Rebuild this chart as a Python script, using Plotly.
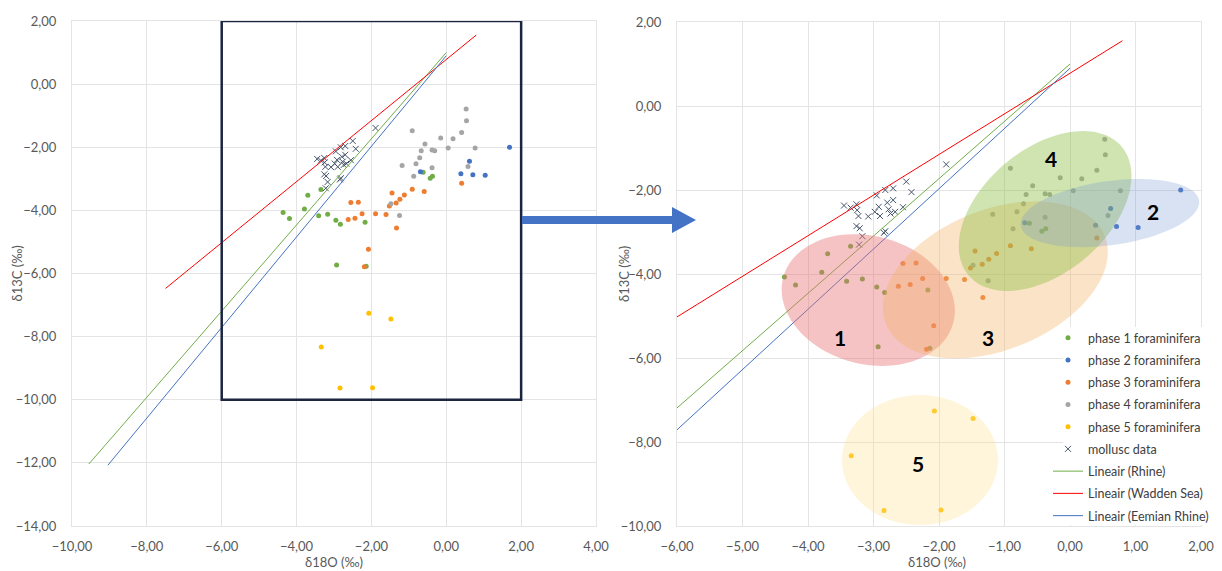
import numpy as np
import plotly.graph_objects as go

# ---- isotope data (δ18O, δ13C in ‰) ----
phase1_x = [-4.36, -4.19, -3.70, -3.79, -3.35, -3.41, -3.17, -2.95, -2.83, -2.17, -2.93, -2.14, -0.62, -0.43, -0.37]
phase1_y = [-4.07, -4.26, -3.52, -3.96, -3.34, -4.17, -4.12, -4.31, -4.44, -4.38, -5.73, -5.77, -2.79, -2.98, -2.92]

phase2_x = [1.69, 0.62, 0.39, 0.71, 1.04, -0.69]
phase2_y = [-2.00, -2.44, -2.84, -2.87, -2.89, -2.78]

phase3_x = [-2.55, -2.35, -2.25, -2.62, -2.44, -1.89, -1.61, -1.45, -1.52, -1.34, -1.24, -1.12, -0.91, -0.59, -1.33, -2.08, -2.19, 0.41]
phase3_y = [-3.75, -3.74, -4.11, -4.29, -4.25, -4.11, -4.13, -3.45, -3.86, -3.77, -3.65, -3.51, -3.33, -3.40, -4.56, -5.23, -5.79, -3.14]

phase4_x = [0.53, 0.54, -0.91, 0.41, -0.15, 0.18, -0.57, 0.77, 0.05, -0.38, -0.31, -0.67, -0.71, -0.81, -1.18, -0.38, 0.58, -0.87, -1.25, -1.48]
phase4_y = [-0.79, -1.16, -1.48, -1.53, -1.71, -1.73, -1.90, -2.02, -2.02, -2.09, -2.11, -2.11, -2.33, -2.52, -2.58, -2.65, -2.61, -2.92, -4.16, -3.79]

phase5_x = [-2.07, -1.48, -3.34, -2.84, -1.97]
phase5_y = [-7.26, -7.44, -8.33, -9.63, -9.62]

mollusc_x = [-1.89, -2.50, -2.42, -2.70, -2.82, -2.95, -2.70, -2.55, -2.67, -2.79, -2.77, -2.74, -2.92, -2.98,
             -2.90, -3.08, -3.45, -3.35, -3.26, -3.25, -3.23, -3.26, -3.21, -3.17, -3.22, -2.84, -2.82]
mollusc_y = [-1.39, -1.80, -2.05, -1.96, -2.00, -2.13, -2.24, -2.41, -2.52, -2.30, -2.46, -2.56, -2.40, -2.52,
             -2.62, -2.63, -2.37, -2.42, -2.34, -2.48, -2.62, -2.86, -2.91, -3.10, -3.30, -3.02, -2.98]

# linear trend lines: y = intercept + slope * x over [xmin, xmax]
trend_names = ["Lineair (Rhine)", "Lineair (Wadden Sea)", "Lineair (Eemian Rhine)"]
trend_slope = [1.365, 0.967, 1.435]
trend_intercept = [1.00, 0.78, 0.90]
trend_xmin = [-9.55, -7.50, -9.04]
trend_xmax = [0.00, 0.80, 0.00]

# group labels drawn over the detail panel
group_labels = ["1", "2", "3", "4", "5"]
group_label_x = [-3.51, 1.27, -1.25, -0.29, -2.32]
group_label_y = [-5.52, -2.50, -5.50, -1.24, -8.50]

# ---- styling ----
W, H = 1222, 571
FONT = "Lato, 'Open Sans', sans-serif"
GREY_TXT = "#595959"
GRID = "#E4E4E4"

phases = [
    ("phase 1 foraminifera", phase1_x, phase1_y, "#70AD47"),
    ("phase 2 foraminifera", phase2_x, phase2_y, "#4472C4"),
    ("phase 3 foraminifera", phase3_x, phase3_y, "#ED7D31"),
    ("phase 4 foraminifera", phase4_x, phase4_y, "#A5A5A5"),
    ("phase 5 foraminifera", phase5_x, phase5_y, "#FFC000"),
]
trend_colors = ["#70AD47", "#FF0000", "#4472C4"]

# plot areas in pixels
L_X0, L_X1, L_Y0, L_Y1 = 72, 596, 21, 526
R_X0, R_X1, R_Y0, R_Y1 = 677, 1201, 22, 526


def dom_x(a, b):
    return [a / W, b / W]


def dom_y(top, bottom):
    return [1 - bottom / H, 1 - top / H]


def P(x, y):
    return f"{x / W:.5f},{1 - y / H:.5f}"


fig = go.Figure()

for panel, (xa, ya) in enumerate([("x", "y"), ("x2", "y2")]):
    show = panel == 1
    for name, xs, ys, col in phases:
        fig.add_trace(go.Scatter(
            x=xs, y=ys, mode="markers", name=name, xaxis=xa, yaxis=ya, legendgroup=name,
            marker=dict(symbol="circle", size=5, color=col),
            showlegend=show))
    fig.add_trace(go.Scatter(
        x=mollusc_x, y=mollusc_y, mode="markers", name="mollusc data", xaxis=xa, yaxis=ya,
        legendgroup="mollusc data",
        marker=dict(symbol="x-thin", size=6, color="#44546A", line=dict(width=1, color="#44546A")),
        showlegend=show))
    for nm, s, b, x0, x1, col in zip(trend_names, trend_slope, trend_intercept, trend_xmin, trend_xmax, trend_colors):
        xs = [x0, x1]
        ys = [b + s * x0, b + s * x1]
        fig.add_trace(go.Scatter(
            x=xs, y=ys, mode="lines", name=nm, xaxis=xa, yaxis=ya, legendgroup=nm,
            line=dict(color=col, width=1), showlegend=show))

axis_common = dict(
    showgrid=True, gridcolor=GRID, gridwidth=1, zeroline=False,
    showline=True, linecolor=GRID, linewidth=1, mirror=True, automargin=False,
    tickformat=".2f", ticks="", tickfont=dict(family=FONT, size=13, color=GREY_TXT),
)

fig.update_layout(
    width=W, height=H,
    margin=dict(l=0, r=0, t=0, b=0, autoexpand=False),
    paper_bgcolor="white", plot_bgcolor="white",
    separators=", ",
    font=dict(family=FONT, color=GREY_TXT),
    xaxis=dict(domain=dom_x(L_X0, L_X1), range=[-10, 4], dtick=2, tick0=0,
               ticklabelstandoff=8, anchor="y", **axis_common),
    yaxis=dict(domain=dom_y(L_Y0, L_Y1), range=[-14, 2], dtick=2, tick0=0,
               ticklabelstandoff=12, anchor="x", **axis_common),
    xaxis2=dict(domain=dom_x(R_X0, R_X1), range=[-6, 2], dtick=1, tick0=0,
                ticklabelstandoff=8, anchor="y2", **axis_common),
    yaxis2=dict(domain=dom_y(R_Y0, R_Y1), range=[-10, 2], dtick=2, tick0=0,
                ticklabelstandoff=12, anchor="x2", **axis_common),
    legend=dict(x=1048 / W, y=1 - 323 / H, xanchor="left", yanchor="top",
                bgcolor="rgba(0,0,0,0)", font=dict(family=FONT, size=12.5, color="#404040"),
                itemwidth=30, tracegroupgap=3, traceorder="grouped"),
    showlegend=True,
)

# axis titles
for txt, x, y, ang in [("δ18O (‰)", (L_X0 + L_X1) / 2, 562, 0),
                       ("δ13C (‰)", 16, (L_Y0 + L_Y1) / 2, -90),
                       ("δ18O (‰)", 937, 562, 0),
                       ("δ13C (‰)", 624, (R_Y0 + R_Y1) / 2, -90)]:
    fig.add_annotation(x=x / W, y=1 - y / H, xref="paper", yref="paper", text=txt,
                       showarrow=False, textangle=ang, xanchor="center", yanchor="middle",
                       font=dict(family=FONT, size=13, color=GREY_TXT))

# white panel behind the legend, hiding the grid there
fig.add_shape(type="path", xref="paper", yref="paper",
              path="M " + P(1063, 327) + " L " + P(1222, 327) + " L " + P(1222, 525) + " L " + P(1063, 525) + " Z",
              fillcolor="white", line=dict(width=0), layer="above")

# group ellipses on the detail panel (centre in data units, semi-axes in px, tilt in degrees)
sx = (R_X1 - R_X0) / 8.0
sy = (R_Y1 - R_Y0) / 12.0
ellipses = [
    dict(cx=-3.08, cy=-4.62, a=88, b=64, ang=-15, fill="rgba(232,112,112,0.42)"),
    dict(cx=-1.14, cy=-4.14, a=118, b=70, ang=22, fill="rgba(244,177,100,0.36)"),
    dict(cx=-0.38, cy=-2.50, a=100, b=62, ang=40, fill="rgba(140,190,70,0.42)"),
    dict(cx=0.61, cy=-2.55, a=90, b=32, ang=8, fill="rgba(120,150,210,0.28)"),
    dict(cx=-2.29, cy=-8.43, a=78, b=65, ang=0, fill="rgba(255,225,140,0.32)"),
]
t = np.linspace(0, 2 * np.pi, 120)
for e in ellipses:
    th = np.deg2rad(e["ang"])
    px_ = e["a"] * np.cos(t) * np.cos(th) - e["b"] * np.sin(t) * np.sin(th)
    py_ = e["a"] * np.cos(t) * np.sin(th) + e["b"] * np.sin(t) * np.cos(th)
    xs = e["cx"] + px_ / sx
    ys = e["cy"] + py_ / sy
    path = "M " + " L ".join(f"{u:.4f},{v:.4f}" for u, v in zip(xs, ys)) + " Z"
    fig.add_shape(type="path", path=path, xref="x2", yref="y2",
                  fillcolor=e["fill"], line=dict(width=0), layer="above")

for lab, x, y in zip(group_labels, group_label_x, group_label_y):
    fig.add_annotation(x=x, y=y, xref="x2", yref="y2", text=f"<b>{lab}</b>", showarrow=False,
                       font=dict(family=FONT, size=21, color="black"))

# zoom window on the overview panel
fig.add_shape(type="rect", xref="x", yref="y", x0=-6, x1=2, y0=-10, y1=2,
              line=dict(color="#1C2540", width=2.5), fillcolor="rgba(0,0,0,0)", layer="above")

# block arrow pointing to the detail panel
arrow = ("M " + P(522, 216) + " L " + P(672, 216) + " L " + P(672, 207) + " L " + P(696, 220)
         + " L " + P(672, 233) + " L " + P(672, 224) + " L " + P(522, 224) + " Z")
fig.add_shape(type="path", path=arrow, xref="paper", yref="paper",
              fillcolor="#4472C4", line=dict(width=0), layer="above")

fig.write_html("out.html", config=dict(displayModeBar=False))
